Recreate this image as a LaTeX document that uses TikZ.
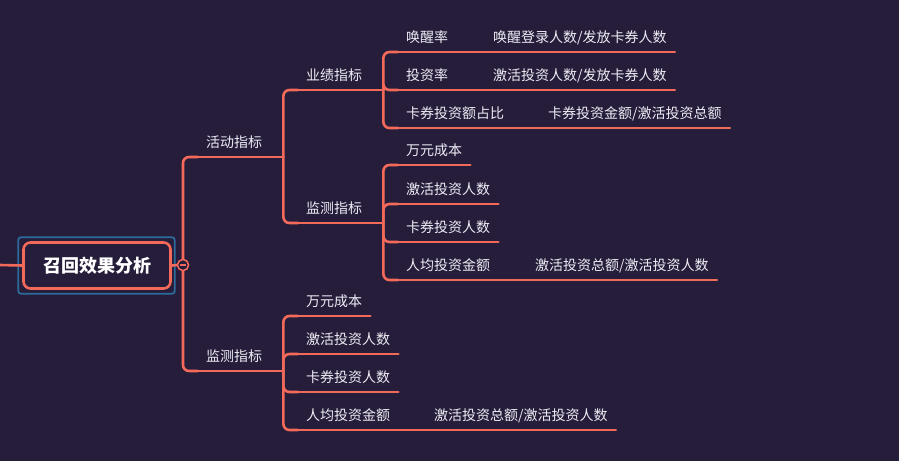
\documentclass[tikz,border=0pt]{standalone}
\usepackage{fontspec}
\setmainfont{Noto Sans CJK SC}
\usepackage{xcolor}

\definecolor{bg}{RGB}{38,29,59}
\definecolor{coral}{RGB}{243,106,90}
\definecolor{selblue}{RGB}{44,106,156}
\definecolor{txt}{RGB}{238,236,244}

\begin{document}
\begin{tikzpicture}[x=1pt, y=-1pt,
  link/.style={draw=coral, line width=2.6pt, rounded corners=6pt, line cap=round},
  topic/.style={anchor=south west, inner xsep=8pt, inner ysep=7pt,
    text height=11pt, text depth=2pt, text=txt, font=\fontsize{14}{16}\selectfont},
  branch/.style={topic, text width=69pt},
  rootbox/.style={draw=coral, line width=2.6pt, rounded corners=7pt, fill=bg,
    minimum width=147pt, minimum height=46pt, text=white,
    font=\fontsize{18}{20}\selectfont\bfseries},
  foldmark/.style={draw=coral, circle, fill=bg, line width=1.4pt,
    minimum size=11pt, inner sep=0pt}]

  \fill[bg] (0,0) rectangle (899,461);
  \useasboundingbox (0,0) rectangle (899,461);

  % central topic
  \coordinate (left) at (0,265);
  \node[rootbox] (root) at (97,265.5) {召回效果分析};
  \draw[selblue, line width=1.8pt, rounded corners=3pt]
    ([shift={(-4,-4)}]root.north west) rectangle ([shift={(3,4)}]root.south east);
  \draw[link] (left) -- (root.west);
  \node[foldmark] (fold) at (183,265) {};

  % first level
  \node[branch] (act) at (198,157) {活动指标};
  \node[branch] (mon) at (198,371) {监测指标};

  % under 活动指标
  \node[branch] (perf) at (298,90) {业绩指标};
  \node[branch] (mon1) at (298,223) {监测指标};

  % under 业绩指标
  \node[topic] (wake) at (398,52) {唤醒率\hspace{45pt}唤醒登录人数/发放卡券人数};
  \node[topic] (rate) at (398,90) {投资率\hspace{45pt}激活投资人数/发放卡券人数};
  \node[topic] (share) at (398,128) {卡券投资额占比\hspace{44pt}卡券投资金额/激活投资总额};

  % under the upper 监测指标
  \node[topic] (costa) at (398,165) {万元成本};
  \node[topic] (usersa) at (398,204) {激活投资人数};
  \node[topic] (carda) at (398,242) {卡券投资人数};
  \node[topic] (avga) at (398,280) {人均投资金额\hspace{45pt}激活投资总额/激活投资人数};

  % under the lower 监测指标
  \node[topic] (costb) at (298,316) {万元成本};
  \node[topic] (usersb) at (298,354) {激活投资人数};
  \node[topic] (cardb) at (298,392) {卡券投资人数};
  \node[topic] (avgb) at (298,430) {人均投资金额\hspace{44pt}激活投资总额/激活投资人数};

  % underlines
  \foreach \n in {act,mon,perf,mon1,wake,rate,share,costa,usersa,carda,avga,costb,usersb,cardb,avgb}
    \draw[link] (\n.south west) -- (\n.south east);

  % connectors
  \draw[link] (root.east) -- (fold.west);
  \draw[link] (fold.north) |- (act.south west);
  \draw[link] (fold.south) |- (mon.south west);
  \draw[link] (act.south east) |- (perf.south west);
  \draw[link] (act.south east) |- (mon1.south west);
  \foreach \n in {wake,rate,share}
    \draw[link] (perf.south east) |- (\n.south west);
  \foreach \n in {costa,usersa,carda,avga}
    \draw[link] (mon1.south east) |- (\n.south west);
  \foreach \n in {costb,usersb,cardb,avgb}
    \draw[link] (mon.south east) |- (\n.south west);

  % fold button
  \node[foldmark] at (fold) {};
  \draw[coral, line width=1.4pt] ([xshift=-3pt]fold.center) -- ([xshift=3pt]fold.center);
\end{tikzpicture}
\end{document}
